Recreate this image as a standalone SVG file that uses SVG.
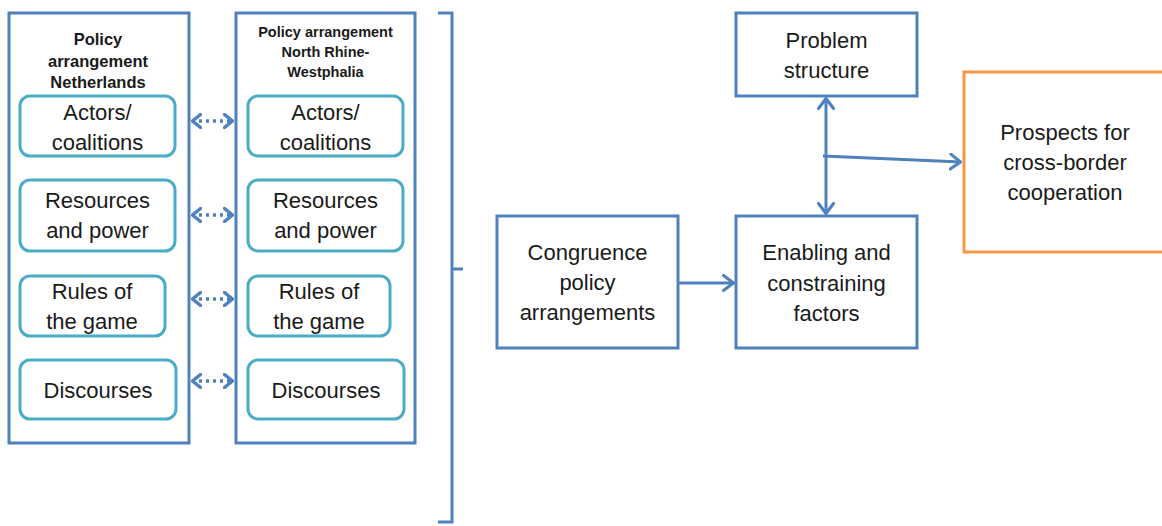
<svg xmlns="http://www.w3.org/2000/svg" width="1162" height="526" viewBox="0 0 1162 526">
<style>
.outer{fill:#fff;stroke:#4F81BD;stroke-width:3}
.inner{fill:#fff;stroke:#4BACC6;stroke-width:3}
.orange{fill:#fff;stroke:#F79646;stroke-width:3}
.t{font-family:"Liberation Sans",Arial,sans-serif;font-size:22px;fill:#1a1a1a;text-anchor:middle}
.hb{font-family:"Liberation Sans",Arial,sans-serif;font-weight:bold;fill:#1a1a1a;text-anchor:middle}
.conn{fill:none;stroke:#4F81BD;stroke-width:3}
.dot{fill:none;stroke:#4F81BD;stroke-width:3.5;stroke-dasharray:3 4}
</style>
<defs>
<marker id="arr" viewBox="0 0 13 18" refX="12" refY="9" markerWidth="13" markerHeight="18" markerUnits="userSpaceOnUse" orient="auto-start-reverse">
<path d="M1.5,1.5 L11.5,9 L1.5,16.5" fill="none" stroke="#4F81BD" stroke-width="3" stroke-linecap="round" stroke-linejoin="round"/>
</marker>
<marker id="arrs" viewBox="0 0 11 16" refX="10" refY="8" markerWidth="11" markerHeight="16" markerUnits="userSpaceOnUse" orient="auto-start-reverse">
<path d="M1.5,1.5 L9.5,8 L1.5,14.5" fill="none" stroke="#4F81BD" stroke-width="3.5" stroke-linecap="round" stroke-linejoin="round"/>
</marker>
</defs>
<rect width="1162" height="526" fill="#fff"/>

<g id="nl">
<rect class="outer" x="9" y="13" width="180" height="430"/>
<text class="hb" font-size="16.5"><tspan x="98" y="45">Policy</tspan><tspan x="98" y="67">arrangement</tspan><tspan x="98" y="88">Netherlands</tspan></text>
</g>
<g id="nl-actors"><rect class="inner" x="20" y="96" width="155" height="60" rx="10"/><text class="t"><tspan x="97.5" y="120">Actors/</tspan><tspan x="97.5" y="150">coalitions</tspan></text></g>
<g id="nl-resources"><rect class="inner" x="20" y="180" width="155" height="71" rx="10"/><text class="t"><tspan x="97.5" y="208">Resources</tspan><tspan x="97.5" y="238">and power</tspan></text></g>
<g id="nl-rules"><rect class="inner" x="20" y="276" width="145" height="60" rx="10"/><text class="t"><tspan x="92" y="299">Rules of</tspan><tspan x="92" y="329">the game</tspan></text></g>
<g id="nl-discourses"><rect class="inner" x="20" y="360" width="156" height="59" rx="10"/><text class="t" x="98" y="398">Discourses</text></g>

<g id="nrw">
<rect class="outer" x="236" y="13" width="179" height="430"/>
<text class="hb" font-size="14.5"><tspan x="325.5" y="37">Policy arrangement</tspan><tspan x="325.5" y="57">North Rhine-</tspan><tspan x="325.5" y="77">Westphalia</tspan></text>
</g>
<g id="nrw-actors"><rect class="inner" x="248" y="96" width="155" height="60" rx="10"/><text class="t"><tspan x="325.5" y="120">Actors/</tspan><tspan x="325.5" y="150">coalitions</tspan></text></g>
<g id="nrw-resources"><rect class="inner" x="248" y="180" width="155" height="71" rx="10"/><text class="t"><tspan x="325.5" y="208">Resources</tspan><tspan x="325.5" y="238">and power</tspan></text></g>
<g id="nrw-rules"><rect class="inner" x="248" y="276" width="142" height="60" rx="10"/><text class="t"><tspan x="319" y="299">Rules of</tspan><tspan x="319" y="329">the game</tspan></text></g>
<g id="nrw-discourses"><rect class="inner" x="248" y="360" width="156" height="59" rx="10"/><text class="t" x="326" y="398">Discourses</text></g>

<g id="bracket">
<path class="conn" d="M438,13 L452,13 L452,522 L438,522 M452,269 L463,269"/>
</g>

<g id="congruence"><rect class="outer" x="497" y="216" width="181" height="132"/><text class="t"><tspan x="587.5" y="260">Congruence</tspan><tspan x="587.5" y="290">policy</tspan><tspan x="587.5" y="320">arrangements</tspan></text></g>
<g id="enabling"><rect class="outer" x="736" y="216" width="181" height="132"/><text class="t"><tspan x="826.5" y="260">Enabling and</tspan><tspan x="826.5" y="291">constraining</tspan><tspan x="826.5" y="321">factors</tspan></text></g>
<g id="problem"><rect class="outer" x="736" y="13" width="181" height="83"/><text class="t"><tspan x="826.5" y="48">Problem</tspan><tspan x="826.5" y="78">structure</tspan></text></g>
<g id="prospects"><rect class="orange" x="964" y="72" width="210" height="180"/><text class="t"><tspan x="1065" y="140">Prospects for</tspan><tspan x="1065" y="170">cross-border</tspan><tspan x="1065" y="200">cooperation</tspan></text></g>

<g id="connectors">
<line class="dot" x1="192" y1="121" x2="233" y2="121" marker-start="url(#arrs)" marker-end="url(#arrs)"/>
<line class="dot" x1="192" y1="215" x2="233" y2="215" marker-start="url(#arrs)" marker-end="url(#arrs)"/>
<line class="dot" x1="192" y1="299" x2="233" y2="299" marker-start="url(#arrs)" marker-end="url(#arrs)"/>
<line class="dot" x1="192" y1="381" x2="233" y2="381" marker-start="url(#arrs)" marker-end="url(#arrs)"/>
<line class="conn" x1="678" y1="283" x2="734" y2="283" marker-end="url(#arr)"/>
<line class="conn" x1="826" y1="98" x2="826" y2="214" marker-start="url(#arr)" marker-end="url(#arr)"/>
<line class="conn" x1="823" y1="156" x2="961" y2="162" marker-end="url(#arr)"/>
</g>
</svg>
